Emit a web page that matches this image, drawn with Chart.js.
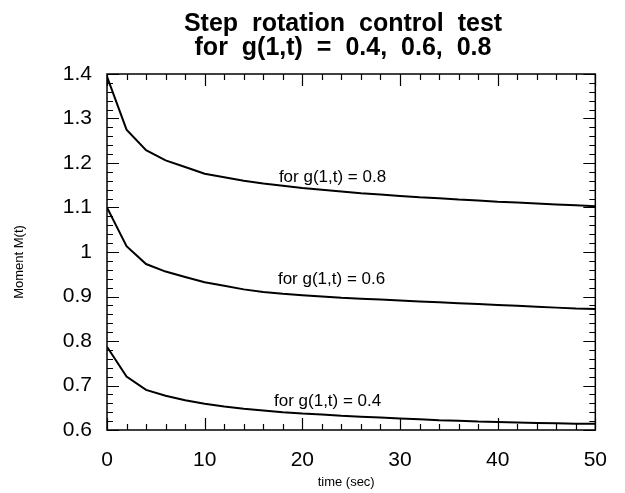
<!DOCTYPE html>
<html>
<head>
<meta charset="utf-8">
<script src="https://cdn.jsdelivr.net/npm/chart.js@4/dist/chart.umd.min.js"></script>
<style>
  html, body { margin: 0; padding: 0; background: #fff; }
  #wrap { width: 625px; height: 493px; }
</style>
</head>
<body>
<div id="wrap"><canvas id="c" width="625" height="493"></canvas></div>
<script>
// ---- data ----
const times = [0,2,4,6,8,10,12,14,16,18,20,22,24,26,28,30,32,34,36,38,40,42,44,46,48,50];
const g08 = [1.394,1.275,1.229,1.206,1.191,1.176,1.168,1.160,1.154,1.149,1.144,1.140,1.136,1.132,1.129,1.126,1.123,1.121,1.118,1.116,1.113,1.111,1.109,1.107,1.105,1.103];
const g06 = [1.100,1.013,0.973,0.956,0.944,0.932,0.924,0.916,0.910,0.906,0.903,0.900,0.897,0.895,0.893,0.891,0.889,0.887,0.885,0.883,0.881,0.879,0.877,0.875,0.873,0.872];
const g04 = [0.787,0.720,0.690,0.677,0.667,0.659,0.653,0.648,0.644,0.640,0.637,0.635,0.632,0.630,0.628,0.626,0.624,0.622,0.621,0.619,0.618,0.617,0.616,0.615,0.614,0.614];
const seriesNames = ['for g(1,t) = 0.8', 'for g(1,t) = 0.6', 'for g(1,t) = 0.4'];
const labelT = [17.6, 17.5, 17.1];
const labelV = [1.168, 0.939, 0.665];
const xTickLabels = ['0','10','20','30','40','50'];
const yTickLabels = ['0.6','0.7','0.8','0.9','1','1.1','1.2','1.3','1.4'];
const titleLines = ['Step rotation control test', 'for g(1,t) = 0.4, 0.6, 0.8'];
const xTitle = 'time (sec)';
const yTitle = 'Moment M(t)';

const FONT = "'Liberation Sans', Arial, Helvetica, sans-serif";

function toPts(vals) { return times.map((t, i) => ({x: t, y: vals[i]})); }
function ds(vals) {
  return { data: toPts(vals), borderColor: '#000', borderWidth: 2, pointRadius: 0, tension: 0, fill: false };
}

const decor = {
  id: 'decor',
  afterDraw(chart) {
    const {ctx, chartArea: {left, right, top, bottom}, scales: {x, y}} = chart;
    ctx.save();
    ctx.strokeStyle = '#000';
    ctx.lineWidth = 1.5;
    ctx.strokeRect(left, top, right - left, bottom - top);
    ctx.lineWidth = 1.2;
    ctx.beginPath();
    for (let i = 0; i <= 25; i++) {
      const t = i * 2;
      const px = Math.round(x.getPixelForValue(t)) + 0.5;
      const L = (t % 10 === 0) ? 12 : 6;
      ctx.moveTo(px, bottom); ctx.lineTo(px, bottom - L);
      ctx.moveTo(px, top); ctx.lineTo(px, top + L);
    }
    for (let i = 0; i <= 40; i++) {
      const v = 0.6 + i * 0.02;
      const py = Math.round(y.getPixelForValue(v)) + 0.5;
      const L = (i % 5 === 0) ? 12 : 6;
      ctx.moveTo(left, py); ctx.lineTo(left + L, py);
      ctx.moveTo(right, py); ctx.lineTo(right - L, py);
    }
    ctx.stroke();

    // series labels
    ctx.fillStyle = '#000';
    ctx.font = '17px ' + FONT;
    ctx.textAlign = 'left';
    ctx.textBaseline = 'middle';
    for (let i = 0; i < seriesNames.length; i++) {
      ctx.fillText(seriesNames[i], x.getPixelForValue(labelT[i]), y.getPixelForValue(labelV[i]));
    }

    // axis titles
    ctx.font = '13px ' + FONT;
    ctx.textAlign = 'center';
    ctx.fillText(xTitle, (left + right) / 2 - 5, 482);
    ctx.save();
    ctx.translate(19, (top + bottom) / 2 + 10);
    ctx.rotate(-Math.PI / 2);
    ctx.fillText(yTitle, 0, 0);
    ctx.restore();

    // title
    ctx.font = 'bold 25px ' + FONT;
    ctx.textAlign = 'center';
    ctx.textBaseline = 'alphabetic';
    try { ctx.wordSpacing = '7px'; } catch (e) {}
    ctx.fillText(titleLines[0], 343, 31);
    ctx.fillText(titleLines[1], 343, 55);
    ctx.restore();
  }
};

new Chart(document.getElementById('c'), {
  type: 'line',
  data: { datasets: [ds(g08), ds(g06), ds(g04)] },
  options: {
    responsive: false,
    animation: false,
    layout: { padding: { left: 0, right: 17, top: 74, bottom: 0 } },
    plugins: { legend: { display: false }, title: { display: false }, tooltip: { enabled: false } },
    scales: {
      x: {
        type: 'linear', min: 0, max: 50,
        grid: { display: false, drawTicks: false },
        border: { display: false },
        ticks: {
          stepSize: 10, color: '#000', padding: 18, maxRotation: 0,
          font: { family: FONT, size: 21 },
          callback: (v, i) => xTickLabels[i]
        },
        afterFit: s => { s.height = 63; }
      },
      y: {
        type: 'linear', min: 0.6, max: 1.4,
        grid: { display: false, drawTicks: false },
        border: { display: false },
        ticks: {
          stepSize: 0.1, color: '#000', padding: 15,
          font: { family: FONT, size: 21 },
          callback: (v, i) => yTickLabels[i]
        },
        afterFit: s => { s.width = 107; }
      }
    }
  },
  plugins: [decor]
});
</script>
</body>
</html>
